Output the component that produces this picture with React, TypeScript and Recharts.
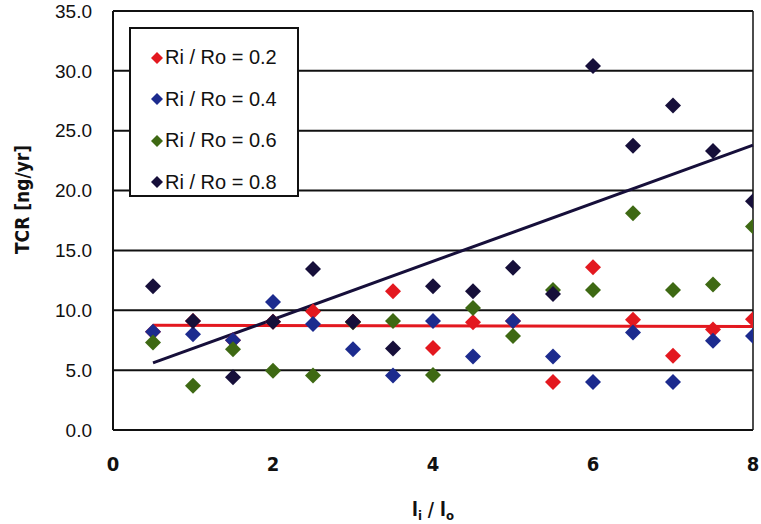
import React from 'react';
import {
  ComposedChart,
  Scatter,
  XAxis,
  YAxis,
  CartesianGrid,
  Legend,
  ReferenceLine,
} from 'recharts';

// l_i / l_o sampling positions shared by every series
const xValues = [0.5, 1, 1.5, 2, 2.5, 3, 3.5, 4, 4.5, 5, 5.5, 6, 6.5, 7, 7.5, 8];

// TCR [ng/yr] per radius ratio
const ratio02 = [8.2, 9.1, 7.5, 9.05, 9.9, 9.05, 11.6, 6.85, 9.0, 9.1, 4.0, 13.6, 9.2, 6.2, 8.4, 9.25];
const ratio04 = [8.2, 8.0, 7.5, 10.7, 8.85, 6.75, 4.55, 9.1, 6.15, 9.1, 6.15, 4.0, 8.15, 4.0, 7.45, 7.85];
const ratio06 = [7.3, 3.7, 6.75, 4.95, 4.55, 9.0, 9.1, 4.6, 10.2, 7.85, 11.7, 11.7, 18.1, 11.7, 12.15, 17.0];
const ratio08 = [12.0, 9.1, 4.4, 9.05, 13.45, 9.05, 6.8, 12.0, 11.6, 13.55, 11.35, 30.4, 23.75, 27.1, 23.3, 19.1];

// linear trend endpoints (x, y) for 0.2 and 0.8
const trend02 = [
  { x: 0.5, y: 8.75 },
  { x: 8, y: 8.65 },
];
const trend08 = [
  { x: 0.5, y: 5.6 },
  { x: 8, y: 23.8 },
];

const yTicks = [0, 5, 10, 15, 20, 25, 30, 35];
const xTicks = [0, 2, 4, 6, 8];

const series = [
  { name: 'Ri / Ro = 0.2', color: '#e3181f', values: ratio02 },
  { name: 'Ri / Ro = 0.4', color: '#1c2b8e', values: ratio04 },
  { name: 'Ri / Ro = 0.6', color: '#3e6913', values: ratio06 },
  { name: 'Ri / Ro = 0.8', color: '#160f3a', values: ratio08 },
];

const ARIAL = '"Liberation Sans", Arial, sans-serif';
const NARROW = '"Liberation Sans Narrow", "DejaVu Sans Condensed", "Liberation Sans", Arial, sans-serif';

const makeDiamond = (color: string, r: number) => (props: any) => {
  const { cx, cy } = props;
  if (cx == null || cy == null) return <g />;
  return (
    <path
      d={`M${cx},${cy - r}L${cx + r},${cy}L${cx},${cy + r}L${cx - r},${cy}Z`}
      fill={color}
    />
  );
};

const LegendBox = () => (
  <div
    style={{
      width: 170,
      height: 170,
      border: '2px solid #111',
      background: '#fff',
      boxSizing: 'border-box',
      paddingTop: 8,
      fontFamily: ARIAL,
      fontSize: 20,
      color: '#111',
    }}
  >
    {series.map((s) => (
      <div key={s.name} style={{ display: 'flex', alignItems: 'center', height: 41.5 }}>
        <svg width={12} height={12} style={{ marginLeft: 20, marginRight: 2 }}>
          <path d="M6,0L12,6L6,12L0,6Z" fill={s.color} />
        </svg>
        <span>{s.name}</span>
      </div>
    ))}
  </div>
);

const XTitle = (props: any) => {
  const { x, y, width } = props.viewBox;
  return (
    <text
      x={x + width / 2}
      y={y + 86}
      textAnchor="middle"
      fontFamily={NARROW}
      fontWeight="bold"
      fontSize={19}
      fill="#111"
    >
      l
      <tspan dy={4} fontSize={13}>i</tspan>
      <tspan dy={-4}> / l</tspan>
      <tspan dy={4} fontSize={13}>o</tspan>
    </text>
  );
};

export default function App() {
  return (
    <div style={{ position: 'absolute', left: 0, top: 0, background: '#fff' }}>
      <ComposedChart
        width={761}
        height={524}
        margin={{ top: 11, right: 8, left: 28, bottom: 34 }}
      >
        <CartesianGrid vertical={false} stroke="#111" strokeWidth={2} />
        <XAxis
          type="number"
          dataKey="x"
          domain={[0, 8]}
          ticks={xTicks}
          allowDataOverflow
          height={60}
          tickLine={false}
          tickSize={0}
          tickMargin={27}
          axisLine={{ stroke: '#111', strokeWidth: 2 }}
          tick={{ fill: '#111', fontSize: 20, fontWeight: 'bold', fontFamily: NARROW }}
          label={<XTitle />}
        />
        <YAxis
          type="number"
          dataKey="y"
          domain={[0, 35]}
          ticks={yTicks}
          allowDataOverflow
          width={85}
          tickLine={false}
          tickSize={0}
          tickMargin={21}
          tickFormatter={(v: number) => v.toFixed(1)}
          axisLine={{ stroke: '#111', strokeWidth: 2 }}
          tick={{ fill: '#111', fontSize: 19, fontFamily: ARIAL }}
          label={{
            value: 'TCR [ng/yr]',
            angle: -90,
            position: 'center',
            dx: -48,
            dy: -21,
            style: { fill: '#111', fontSize: 19, fontWeight: 'bold', fontFamily: NARROW },
          }}
        />
        <ReferenceLine x={8} stroke="#111" strokeWidth={1.5} />
        {series.map((s) => (
          <Scatter
            key={s.name}
            name={s.name}
            data={xValues.map((x, i) => ({ x, y: s.values[i] }))}
            fill={s.color}
            shape={makeDiamond(s.color, 8)}
            isAnimationActive={false}
          />
        ))}
        <ReferenceLine
          segment={trend02}
          stroke="#e3181f"
          strokeWidth={3}
          ifOverflow="visible"
        />
        <ReferenceLine
          segment={trend08}
          stroke="#160f3a"
          strokeWidth={3}
          ifOverflow="visible"
        />
        <Legend
          layout="vertical"
          align="center"
          verticalAlign="middle"
          content={<LegendBox />}
          wrapperStyle={{ left: 129, top: 27, width: 170, height: 170 }}
        />
      </ComposedChart>
    </div>
  );
}
